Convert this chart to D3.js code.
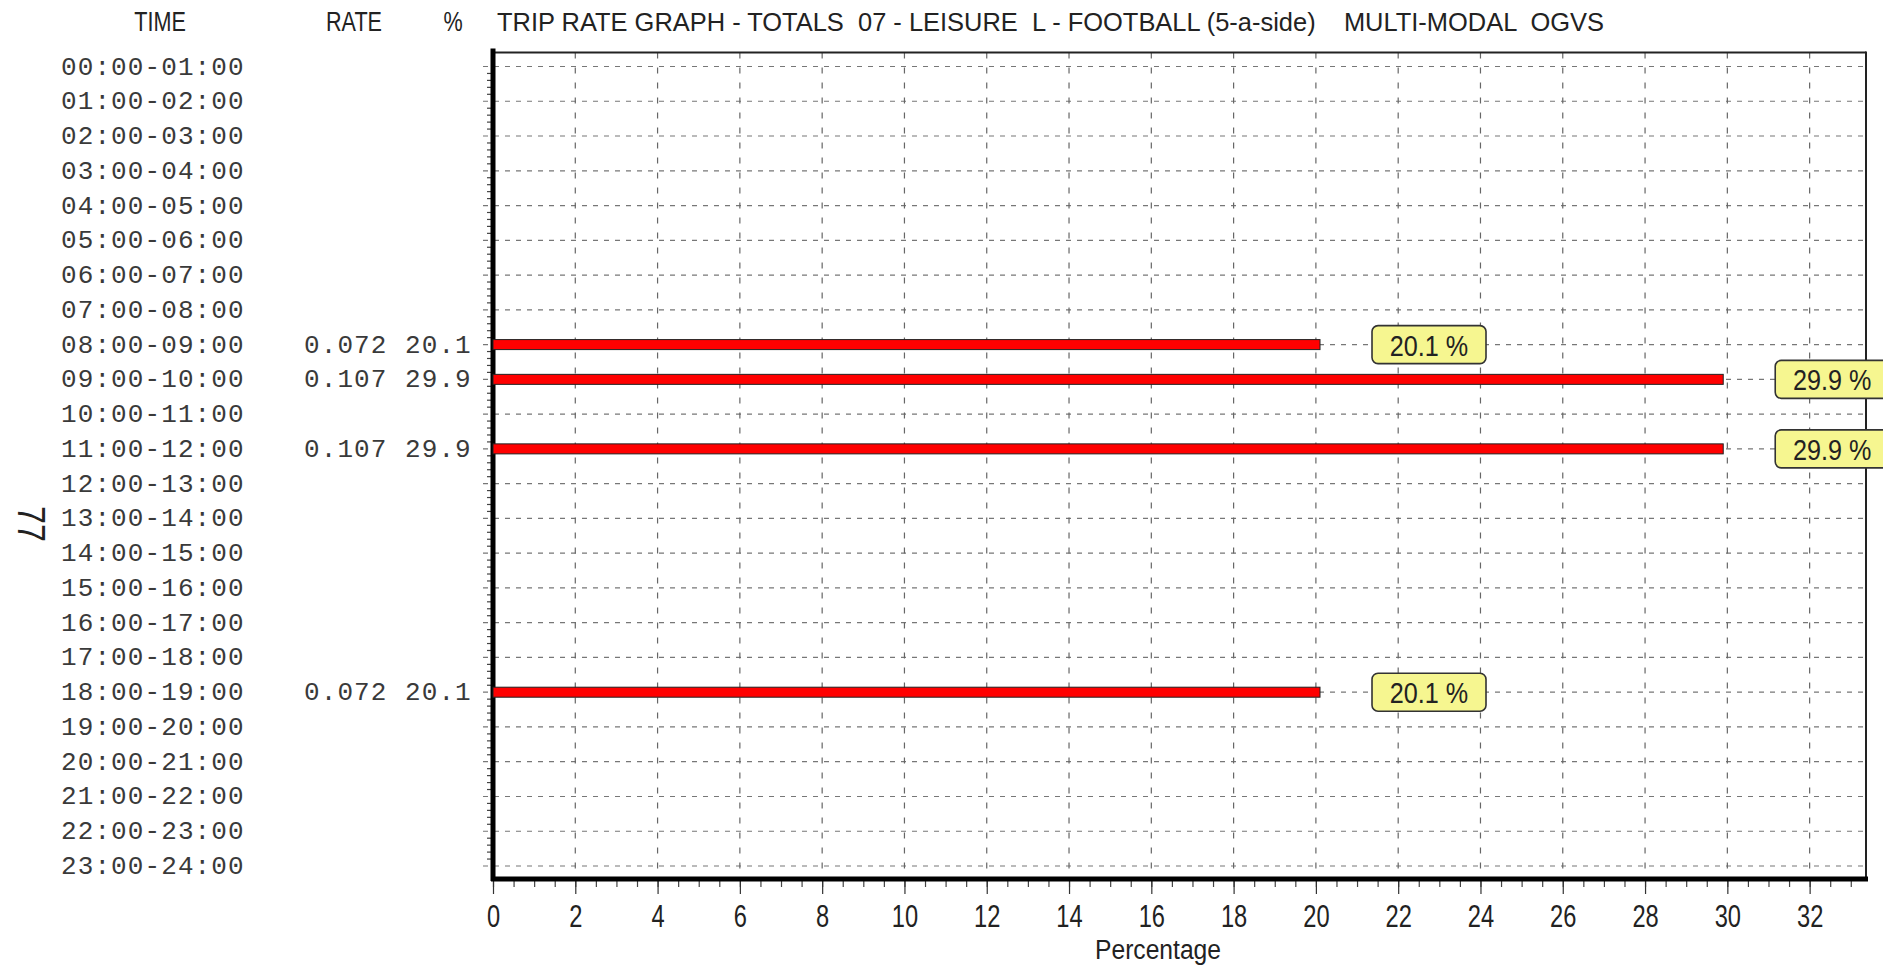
<!DOCTYPE html>
<html>
<head>
<meta charset="utf-8">
<script src="https://cdn.jsdelivr.net/npm/d3@7"></script>
<style>
html,body{margin:0;padding:0;background:#fff;}
svg{display:block;}
</style>
</head>
<body>
<svg id="chart" width="1883" height="967"></svg>
<script>
// ---------- DATA ----------
const times = ["00:00-01:00","01:00-02:00","02:00-03:00","03:00-04:00","04:00-05:00","05:00-06:00",
  "06:00-07:00","07:00-08:00","08:00-09:00","09:00-10:00","10:00-11:00","11:00-12:00",
  "12:00-13:00","13:00-14:00","14:00-15:00","15:00-16:00","16:00-17:00","17:00-18:00",
  "18:00-19:00","19:00-20:00","20:00-21:00","21:00-22:00","22:00-23:00","23:00-24:00"];
const barHours = ["08:00-09:00","09:00-10:00","11:00-12:00","18:00-19:00"];
const barRates = ["0.072","0.107","0.107","0.072"];
const barPercents = [20.1, 29.9, 29.9, 20.1];
const xTickValues = [0,2,4,6,8,10,12,14,16,18,20,22,24,26,28,30,32];
const headerLabels = ["TIME","RATE","%"];
const titleText = "TRIP RATE GRAPH - TOTALS  07 - LEISURE  L - FOOTBALL (5-a-side)    MULTI-MODAL  OGVS";
const xAxisTitle = "Percentage";
const sideLabel = "77";

// ---------- LAYOUT ----------
const svg = d3.select("#chart");
const plotLeft = 493, plotRight = 1866, plotTop = 52.5, plotBottom = 879;
const x = d3.scaleLinear().domain([0, 33.37]).range([plotLeft, plotRight]);
const y = d3.scalePoint().domain(times).range([66.5, 866]);
const step = y.step();

const mono = "'Liberation Mono','DejaVu Sans Mono',monospace";
const sans = "'Liberation Sans',Arial,sans-serif";

// horizontal dashed grid (at each row)
svg.append("g").selectAll("line").data(times).join("line")
  .attr("x1", plotLeft - 10).attr("x2", plotRight)
  .attr("y1", d => y(d)).attr("y2", d => y(d))
  .attr("stroke", "#777").attr("stroke-width", 1.2).attr("stroke-dasharray", "5,6");

// vertical dashed grid
svg.append("g").selectAll("line").data(xTickValues.filter(v => v > 0)).join("line")
  .attr("x1", d => x(d)).attr("x2", d => x(d))
  .attr("y1", plotTop).attr("y2", plotBottom)
  .attr("stroke", "#666").attr("stroke-width", 1.2).attr("stroke-dasharray", "6,9");

// left minor ticks
const minorY = [];
for (let i = 0; i < times.length - 1; i++) for (let k = 1; k < 5; k++) minorY.push(y(times[i]) + k * step / 5);
svg.append("g").selectAll("line").data(minorY).join("line")
  .attr("x1", plotLeft - 6).attr("x2", plotLeft)
  .attr("y1", d => d).attr("y2", d => d)
  .attr("stroke", "#444").attr("stroke-width", 1.2);

// borders
svg.append("line").attr("x1", plotLeft).attr("x2", plotRight).attr("y1", plotTop).attr("y2", plotTop)
  .attr("stroke", "#222").attr("stroke-width", 2);
svg.append("line").attr("x1", plotRight).attr("x2", plotRight).attr("y1", plotTop - 1).attr("y2", plotBottom)
  .attr("stroke", "#222").attr("stroke-width", 2);

// x axis (minor ticks)
const minorAxis = d3.axisBottom(x).tickValues(d3.range(0, 33.5, 0.5)).tickSize(6).tickFormat("");
svg.append("g").attr("transform", `translate(0,${plotBottom + 2})`).call(minorAxis)
  .call(g => g.select(".domain").remove())
  .call(g => g.selectAll("line").attr("stroke", "#444").attr("stroke-width", 1.2));

// x axis (major)
const xAxis = d3.axisBottom(x).tickValues(xTickValues).tickSize(13).tickPadding(10).tickFormat(d3.format("d"));
const gx = svg.append("g").attr("transform", `translate(0,${plotBottom + 2})`).call(xAxis);
gx.select(".domain").remove();
gx.selectAll("line").attr("stroke", "#333").attr("stroke-width", 1.2);
gx.selectAll("text")
  .attr("font-family", sans).attr("font-size", 32).attr("fill", "#222")
  .attr("dy", null).attr("y", 46)
  .attr("transform", "scale(0.74,1)");

// axis lines (thick)
svg.append("line").attr("x1", plotLeft).attr("x2", plotLeft).attr("y1", plotTop - 4).attr("y2", plotBottom + 2)
  .attr("stroke", "#000").attr("stroke-width", 5);
svg.append("line").attr("x1", plotLeft - 2).attr("x2", plotRight + 2).attr("y1", plotBottom).attr("y2", plotBottom)
  .attr("stroke", "#000").attr("stroke-width", 5);

// bars
const bars = barHours.map((h, i) => ({h, rate: barRates[i], pct: barPercents[i]}));
svg.append("g").selectAll("rect").data(bars).join("rect")
  .attr("x", x(0)).attr("y", d => y(d.h) - 5)
  .attr("width", d => x(d.pct) - x(0)).attr("height", 10)
  .attr("fill", "#ff0000").attr("stroke", "#222").attr("stroke-width", 1);

// value labels
const lab = svg.append("g").selectAll("g").data(bars).join("g")
  .attr("transform", d => `translate(${x(d.pct) + 52},${y(d.h) - 19})`);
lab.append("rect").attr("width", 114).attr("height", 38).attr("rx", 6)
  .attr("fill", "#f6f690").attr("stroke", "#333").attr("stroke-width", 1.6);
lab.append("text").attr("transform", "translate(57,30) scale(0.84,1)")
  .attr("text-anchor", "middle").attr("font-family", sans).attr("font-size", 30).attr("fill", "#222")
  .text(d => d.pct.toFixed(1) + " %");

// time labels
svg.append("g").selectAll("text").data(times).join("text")
  .attr("x", 61).attr("y", d => y(d) + 8)
  .attr("font-family", mono).attr("font-size", 26).attr("letter-spacing", "1.1px").attr("fill", "#3a3a3a")
  .text(d => d);

// rate and percent labels
svg.append("g").selectAll("text").data(bars).join("text")
  .attr("x", 304).attr("y", d => y(d.h) + 8)
  .attr("font-family", mono).attr("font-size", 26).attr("letter-spacing", "1.1px").attr("fill", "#3a3a3a")
  .text(d => d.rate);
svg.append("g").selectAll("text").data(bars).join("text")
  .attr("x", 405).attr("y", d => y(d.h) + 8)
  .attr("font-family", mono).attr("font-size", 26).attr("letter-spacing", "1.1px").attr("fill", "#3a3a3a")
  .text(d => d.pct.toFixed(1));

// headers
const headerX = [160, 354, 453];
svg.append("g").selectAll("text").data(headerLabels).join("text")
  .attr("transform", (d, i) => `translate(${headerX[i]},31) scale(0.8,1)`)
  .attr("text-anchor", "middle").attr("font-family", sans).attr("font-size", 27).attr("fill", "#222")
  .text(d => d);
svg.append("text").attr("x", 497).attr("y", 31)
  .attr("font-family", sans).attr("font-size", 26).attr("fill", "#222")
  .attr("textLength", 1107).attr("lengthAdjust", "spacingAndGlyphs")
  .style("white-space", "pre")
  .text(titleText);

// x axis title
svg.append("text").attr("transform", "translate(1158,959) scale(0.88,1)")
  .attr("text-anchor", "middle").attr("font-family", sans).attr("font-size", 28).attr("fill", "#222")
  .text(xAxisTitle);

// side label
svg.append("text").attr("transform", "translate(18,524) rotate(90) scale(0.85,1)")
  .attr("text-anchor", "middle").attr("font-family", sans).attr("font-size", 38).attr("fill", "#222")
  .text(sideLabel);
</script>
</body>
</html>
